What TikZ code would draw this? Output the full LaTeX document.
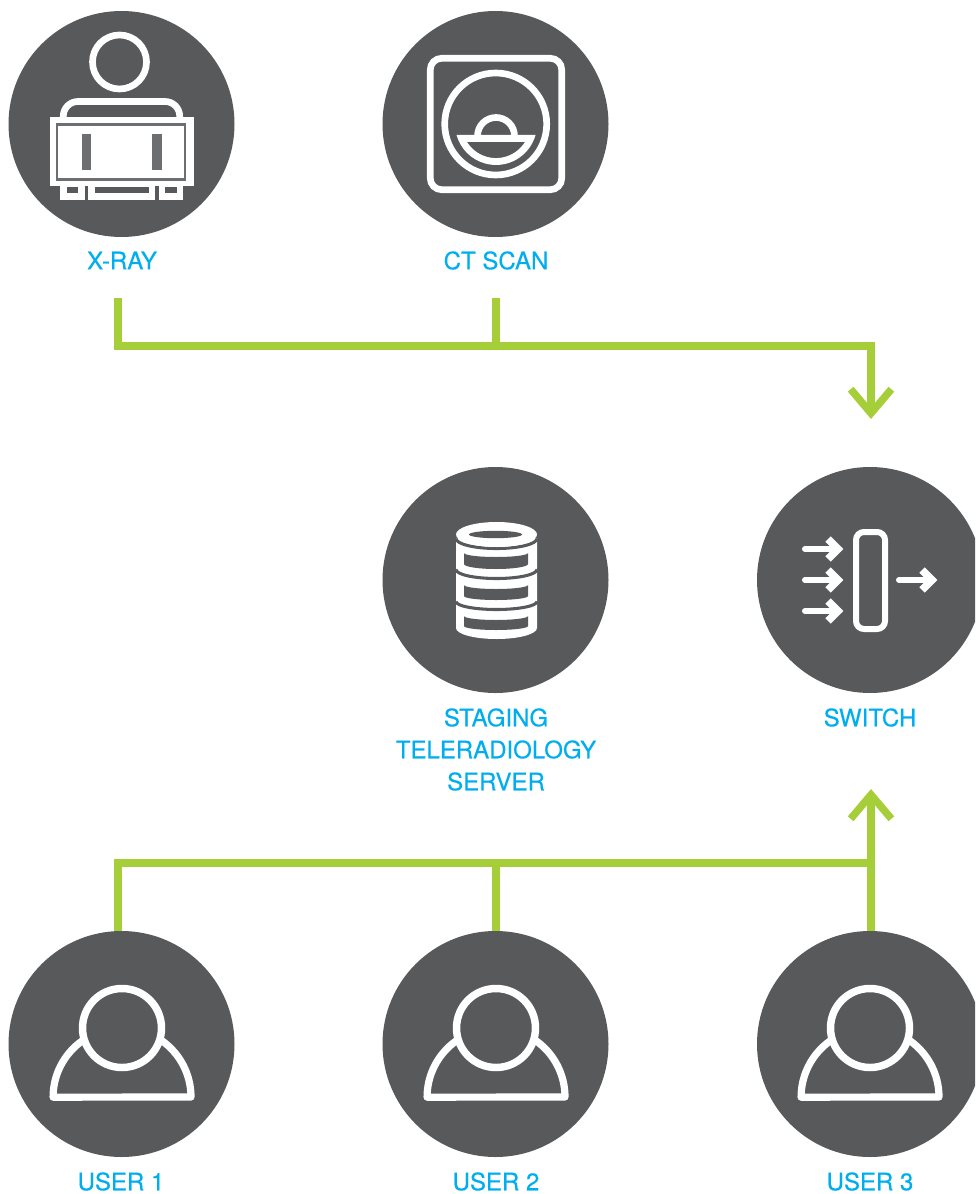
\documentclass[tikz,border=0pt]{standalone}
\usepackage{fontspec}
\usetikzlibrary{arrows.meta}
\setmainfont[FakeBold=0.35]{TeX Gyre Heros}
\definecolor{hubdark}{HTML}{58595B}
\definecolor{busgreen}{HTML}{A6CE39}
\definecolor{labelblue}{HTML}{00AEEF}
\definecolor{xraygrey}{HTML}{6D6E70}
\tikzset{
  hub/.style={circle,fill=hubdark,inner sep=0pt,minimum size=169.5pt},
  hublabel/.style={text=labelblue,font=\fontsize{18pt}{24pt}\selectfont,align=center,inner sep=0pt},
  bus/.style={draw=busgreen,line width=6pt,miter limit=10},
  busarrow/.style={bus,-{Straight Barb[length=18pt,width=30.5pt,line width=5.6pt]}},
  iconline/.style={draw=white,line width=5pt},
  whitefill/.style={fill=white},
  darkfill/.style={fill=hubdark}
}
\newcommand{\personicon}[1]{%
  \begin{scope}[shift={(#1,0)}]
    \draw[iconline,line width=5.4pt,line join=round,line cap=round] (82,1041) arc[start angle=234.5,end angle=180,radius=69] -- (191,1097) arc[start angle=0,end angle=-54.5,radius=69];
    \draw[iconline,fill=hubdark,line width=5.6pt] (122,1028) circle[radius=39.5];
  \end{scope}}
\newcommand{\smallarrow}[3]{%
  \draw[iconline,line width=4.5pt,line cap=round] (#1,#3) -- (#2-1,#3);
  \draw[iconline,line width=5.6pt,miter limit=10] (#2-12,#3-10) -- (#2-2,#3) -- (#2-12,#3+10);}
\begin{document}
\begin{tikzpicture}[x=0.75pt,y=-0.75pt]
\useasboundingbox (0,0) rectangle (975,1194);
\clip (0,0) rectangle (975,1194);

% named ends of the connectors
\coordinate (xrayout) at (118,298);
\coordinate (ctout) at (496,298);
\coordinate (topjoin) at (496,346);
\coordinate (switchin) at (871,419);
\coordinate (switchbottom) at (871,789);
\coordinate (botleft) at (118,863);
\coordinate (botmid) at (496,863);
\coordinate (botright) at (871,863);
\coordinate (u1out) at (118,945);
\coordinate (u2out) at (496,945);
\coordinate (u3out) at (871,945);

% connectors
\draw[bus] (ctout) -- (topjoin);
\draw[busarrow] (xrayout) |- (topjoin) -| (switchin);
\draw[bus] (u1out) |- (botright);
\draw[bus] (u2out) -- (botmid);
\draw[busarrow] (u3out) -- (switchbottom);

% hubs
\node[hub] (xray) at (121.5,124) {};
\node[hub] (ct) at (495.5,124) {};
\node[hub] (server) at (495.5,580) {};
\node[hub] (switch) at (870,580) {};
\node[hub] (user1) at (121.5,1044) {};
\node[hub] (user2) at (495.5,1044) {};
\node[hub] (user3) at (870,1044) {};

% labels
\node[hublabel] (xraylabel) at (122,260.5) {X-RAY};
\node[hublabel] (ctlabel) at (496,260.5) {CT SCAN};
\node[hublabel] (serverlabel) at (496,749.5) {STAGING\\TELERADIOLOGY\\SERVER};
\node[hublabel] (switchlabel) at (870,717.5) {SWITCH};
\node[hublabel] (user1label) at (121,1181.5) {USER 1};
\node[hublabel] (user2label) at (496,1181.5) {USER 2};
\node[hublabel] (user3label) at (870,1181.5) {USER 3};

% X-ray icon
\draw[iconline] (119.5,62) circle[radius=27];
\draw[iconline,rounded corners=11pt] (63.3,120) -- (63.3,101.5) -- (179.7,101.5) -- (179.7,120);
\fill[whitefill] (50,117) rectangle (194,186);
\draw[draw=xraygrey,line width=2pt] (57,124.5) rectangle (185,179.5);
\fill[xraygrey] (82,134) rectangle (91,170);
\fill[xraygrey] (152,134) rectangle (162,170);
\fill[whitefill] (60,186) rectangle (85,200);
\fill[whitefill] (88,186) rectangle (155,200);
\fill[whitefill] (159,186) rectangle (183,200);
\fill[darkfill] (67,187) rectangle (78,193);
\fill[darkfill] (95,187) rectangle (149,193);
\fill[darkfill] (165,187) rectangle (177,193);

% CT icon
\draw[iconline,rounded corners=8.5pt] (430.3,58.3) rectangle (561.7,189.7);
\draw[iconline] (495.7,124) circle[radius=51];
\draw[iconline] (477.5,136) arc[start angle=180,end angle=360,radius=18.5];
\fill[whitefill,even odd rule]
  (456.5,135) -- (535.5,135) arc[start angle=15.6,end angle=164.4,radius=41] -- cycle
  (467,142) -- (525,142) arc[start angle=32,end angle=148,radius=34.2] -- cycle;

% server icon
\fill[whitefill] (456,600) -- (456,628) arc[start angle=180,end angle=0,x radius=40.5,y radius=11] -- (537,600) -- cycle;
\fill[whitefill] (456,569) -- (456,600) arc[start angle=180,end angle=0,x radius=40.5,y radius=8] -- (537,569) -- cycle;
\draw[draw=hubdark,line width=2.3pt] (456,601.5) arc[start angle=180,end angle=0,x radius=40.5,y radius=8];
\fill[whitefill] (456,538) -- (456,568) arc[start angle=180,end angle=0,x radius=40.5,y radius=9] -- (537,538) -- cycle;
\draw[draw=hubdark,line width=2.3pt] (456,569.5) arc[start angle=180,end angle=0,x radius=40.5,y radius=9];
\draw[draw=hubdark,line width=2.3pt] (456,538.5) arc[start angle=180,end angle=0,x radius=40.5,y radius=10];
\fill[whitefill] (496.5,534.5) ellipse[x radius=40.5,y radius=12.5];
\fill[darkfill] (495.5,534.5) ellipse[x radius=26.5,y radius=3.7];
\fill[darkfill] (464,553) arc[start angle=180,end angle=0,x radius=32,y radius=4] -- (528,564) arc[start angle=0,end angle=180,x radius=32,y radius=5] -- cycle;
\fill[darkfill] (464,585) arc[start angle=180,end angle=0,x radius=32,y radius=4] -- (528,596) arc[start angle=0,end angle=180,x radius=32,y radius=4] -- cycle;
\fill[darkfill] (464,616) arc[start angle=180,end angle=0,x radius=32,y radius=4] -- (528,626) arc[start angle=0,end angle=180,x radius=32,y radius=4] -- cycle;

% switch icon
\draw[iconline,line width=4.5pt,rounded corners=6pt] (856,532) rectangle (885,629);
\smallarrow{805}{840}{549}
\smallarrow{805}{840}{580}
\smallarrow{805}{840}{611}
\smallarrow{899}{934}{580}

% user icons
\personicon{0}
\personicon{374}
\personicon{748}
\end{tikzpicture}
\end{document}
